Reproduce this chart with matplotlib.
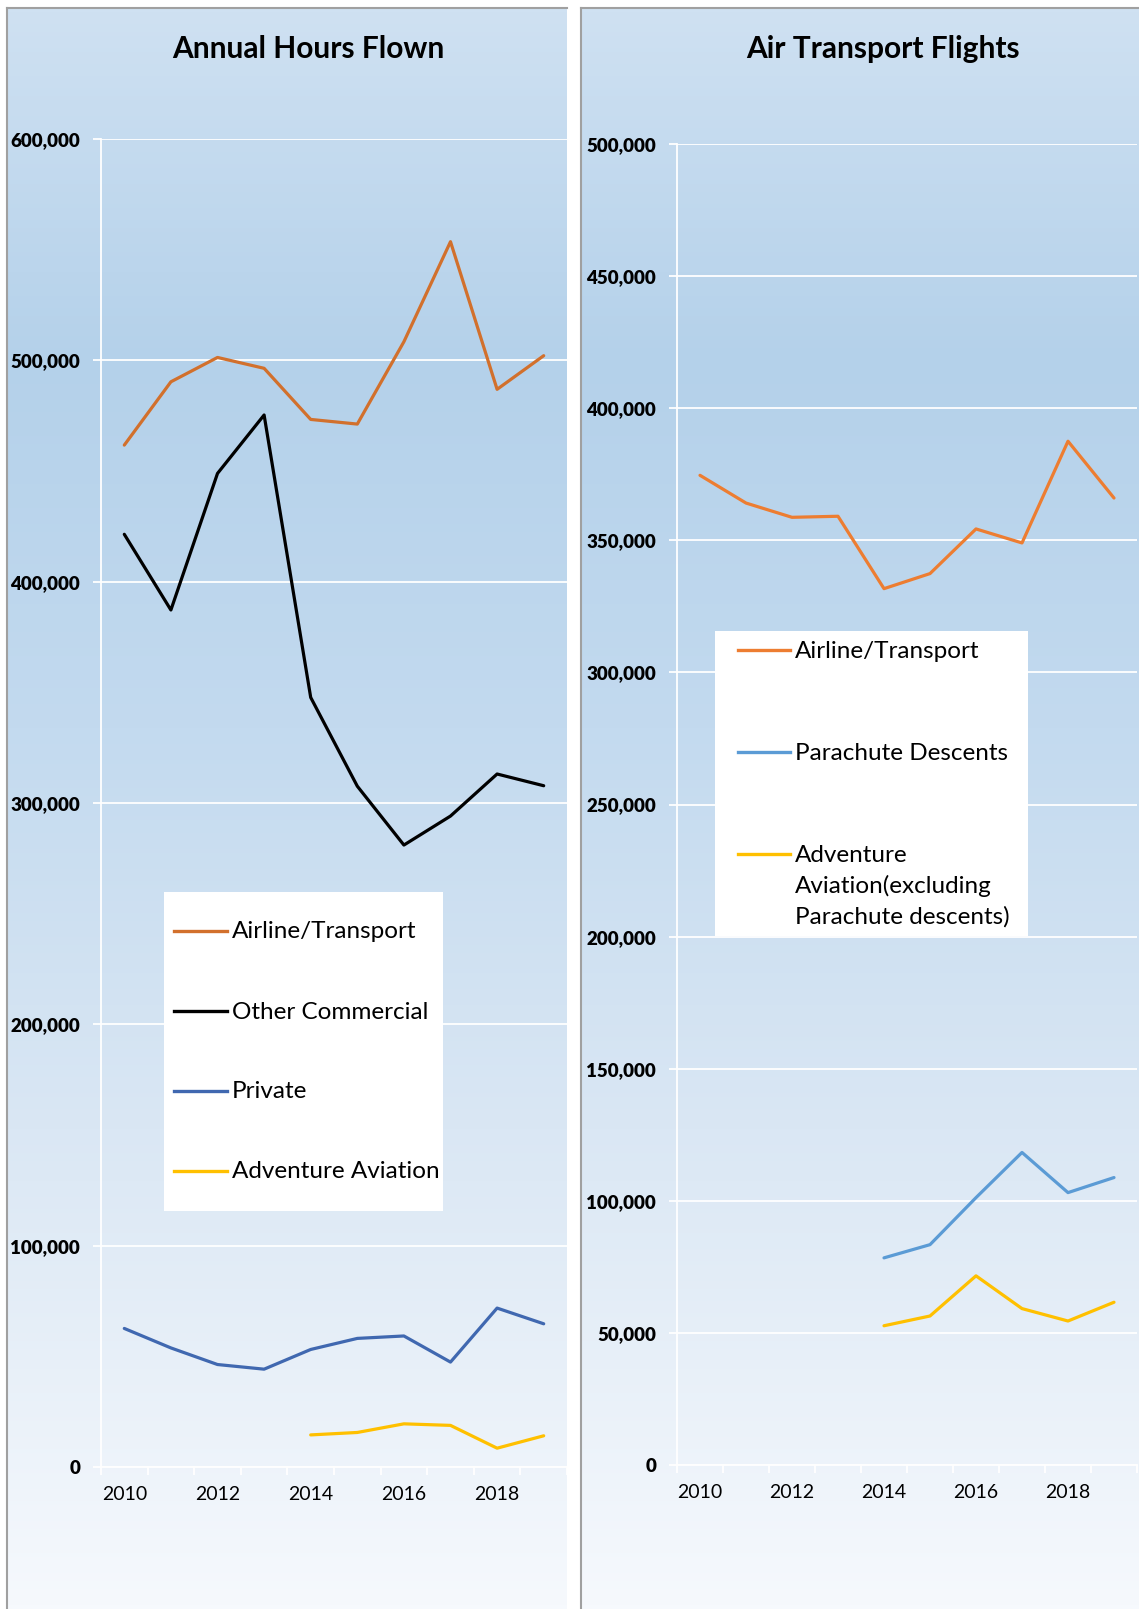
import matplotlib.pyplot as plt
from matplotlib.lines import Line2D
from matplotlib.patches import Rectangle
import numpy as np

plt.rcParams['font.family'] = ['Lato', 'DejaVu Sans']

years = [2010, 2011, 2012, 2013, 2014, 2015, 2016, 2017, 2018, 2019]
year_labels = ["2010", "2012", "2014", "2016", "2018"]

# Annual hours flown
hours_airline = [461700, 490300, 501300, 496400, 473300, 471200, 508400, 553600, 486900, 502100]
hours_other = [421400, 387200, 448900, 475300, 347700, 307600, 281000, 294100, 313100, 307800]
hours_private = [62600, 53800, 46300, 44200, 53100, 58100, 59200, 47400, 71800, 64700]
hours_adventure = [None, None, None, None, 14500, 15600, 19500, 18800, 8500, 14100]

# Air transport flights
flights_airline = [374600, 364100, 358700, 359100, 331700, 337400, 354300, 349000, 387500, 366000]
flights_parachute = [None, None, None, None, 78400, 83400, 101200, 118300, 103100, 108800]
flights_adventure = [None, None, None, None, 52700, 56400, 71600, 59200, 54500, 61600]

W, H = 1139, 1609


def fx(px):
    return px / W


def fy(py):
    return 1 - py / H


def arr(v):
    return np.array([np.nan if a is None else a for a in v], dtype=float)


fig = plt.figure(figsize=(W / 100, H / 100), dpi=100)

# gradient panels
stops = [0.0, 0.22, 0.45, 0.7, 1.0]
cols = np.array([(207, 225, 242), (180, 209, 234), (195, 218, 239),
                 (218, 231, 244), (246, 249, 253)]) / 255.0
t = np.linspace(0, 1, 400)
grad = np.stack([np.interp(t, stops, cols[:, i]) for i in range(3)], axis=1)[:, None, :]

for x0, x1 in [(7, 567), (581, 1139)]:
    bg = fig.add_axes([fx(x0), 0, fx(x1) - fx(x0), fy(8)], zorder=-5)
    bg.imshow(grad, aspect="auto", extent=[0, 1, 0, 1])
    bg.set_xlim(0, 1)
    bg.set_ylim(0, 1)
    bg.set_xticks([])
    bg.set_yticks([])
    for s in ["right", "bottom"]:
        bg.spines[s].set_visible(False)
    for s in ["left", "top"]:
        bg.spines[s].set_color("#a0a0a0")
        bg.spines[s].set_linewidth(1.5)


def style_axes(ax, ymax, ystep):
    ax.set_facecolor("none")
    ax.set_xlim(-0.5, len(years) - 0.5)
    ax.set_ylim(0, ymax)
    yt = np.arange(0, ymax + 1, ystep)
    ax.set_yticks(yt, labels=[f"{int(v):,}" for v in yt])
    ax.grid(axis="y", color="white", linewidth=1.3)
    ax.set_axisbelow(True)
    for s in ["top", "right"]:
        ax.spines[s].set_visible(False)
    for s in ["left", "bottom"]:
        ax.spines[s].set_color("white")
        ax.spines[s].set_linewidth(1.3)
    ax.set_xticks(np.arange(-0.5, len(years), 1))
    ax.set_xticklabels([])
    ax.set_xticks([0, 2, 4, 6, 8], minor=True)
    ax.set_xticklabels(year_labels, minor=True, fontsize=14)
    ax.tick_params(axis="x", which="major", length=6, color="white", width=1.3)
    ax.tick_params(axis="x", which="minor", length=0, pad=14)
    ax.tick_params(axis="y", length=6, color="white", width=1.3, pad=9)
    plt.setp(ax.get_yticklabels(), fontweight="heavy", fontsize=13.5, color="black")


def legend_box(x0, y0, x1, y1, entries, fs):
    fig.add_artist(Rectangle((fx(x0), fy(y1)), fx(x1) - fx(x0), fy(y0) - fy(y1),
                             transform=fig.transFigure, facecolor="white",
                             edgecolor="none", zorder=5))
    for y, color, label, hx0, hx1 in entries:
        fig.add_artist(Line2D([fx(hx0), fx(hx1)], [fy(y), fy(y)], color=color,
                              linewidth=2.4, transform=fig.transFigure, zorder=6))
        if "\n" in label:
            fig.text(fx(hx1 + 5), fy(y - 9), label, fontsize=fs, va="top", ha="left",
                     linespacing=1.5, zorder=7)
        else:
            fig.text(fx(hx1 + 5), fy(y + 1), label, fontsize=fs, va="center", ha="left",
                     zorder=7)


x = np.arange(len(years))
lw = 2.3

# left chart
ax1 = fig.add_axes([fx(101), fy(1467), fx(567) - fx(101), fy(139) - fy(1467)])
style_axes(ax1, 600000, 100000)
ax1.plot(x, hours_airline, color="#D2702C", lw=lw, solid_capstyle="round")
ax1.plot(x, hours_other, color="black", lw=lw, solid_capstyle="round")
ax1.plot(x, hours_private, color="#4068B0", lw=lw, solid_capstyle="round")
ax1.plot(x, arr(hours_adventure), color="#FFC000", lw=lw, solid_capstyle="round")
fig.text(fx(308), fy(49), "Annual Hours Flown", fontsize=21.5, fontweight="bold",
         ha="center", va="center")

legend_box(164, 892, 443, 1211, [
    (931, "#D2702C", "Airline/Transport", 174, 227),
    (1011, "black", "Other Commercial", 174, 227),
    (1091, "#4068B0", "Private", 174, 227),
    (1171, "#FFC000", "Adventure Aviation", 174, 227),
], 17.5)

# right chart
ax2 = fig.add_axes([fx(677), fy(1465), fx(1137) - fx(677), fy(144) - fy(1465)])
style_axes(ax2, 500000, 50000)
ax2.plot(x, flights_airline, color="#ED7D31", lw=lw, solid_capstyle="round")
ax2.plot(x, arr(flights_parachute), color="#5B9BD5", lw=lw, solid_capstyle="round")
ax2.plot(x, arr(flights_adventure), color="#FFC000", lw=lw, solid_capstyle="round")
fig.text(fx(883), fy(49), "Air Transport Flights", fontsize=21.5, fontweight="bold",
         ha="center", va="center")

legend_box(715, 631, 1028, 936, [
    (650, "#ED7D31", "Airline/Transport", 738, 790),
    (752, "#5B9BD5", "Parachute Descents", 738, 790),
    (854, "#FFC000", "Adventure\nAviation(excluding\nParachute descents)", 738, 790),
], 17.5)

fig.savefig("out.png", dpi=100)
